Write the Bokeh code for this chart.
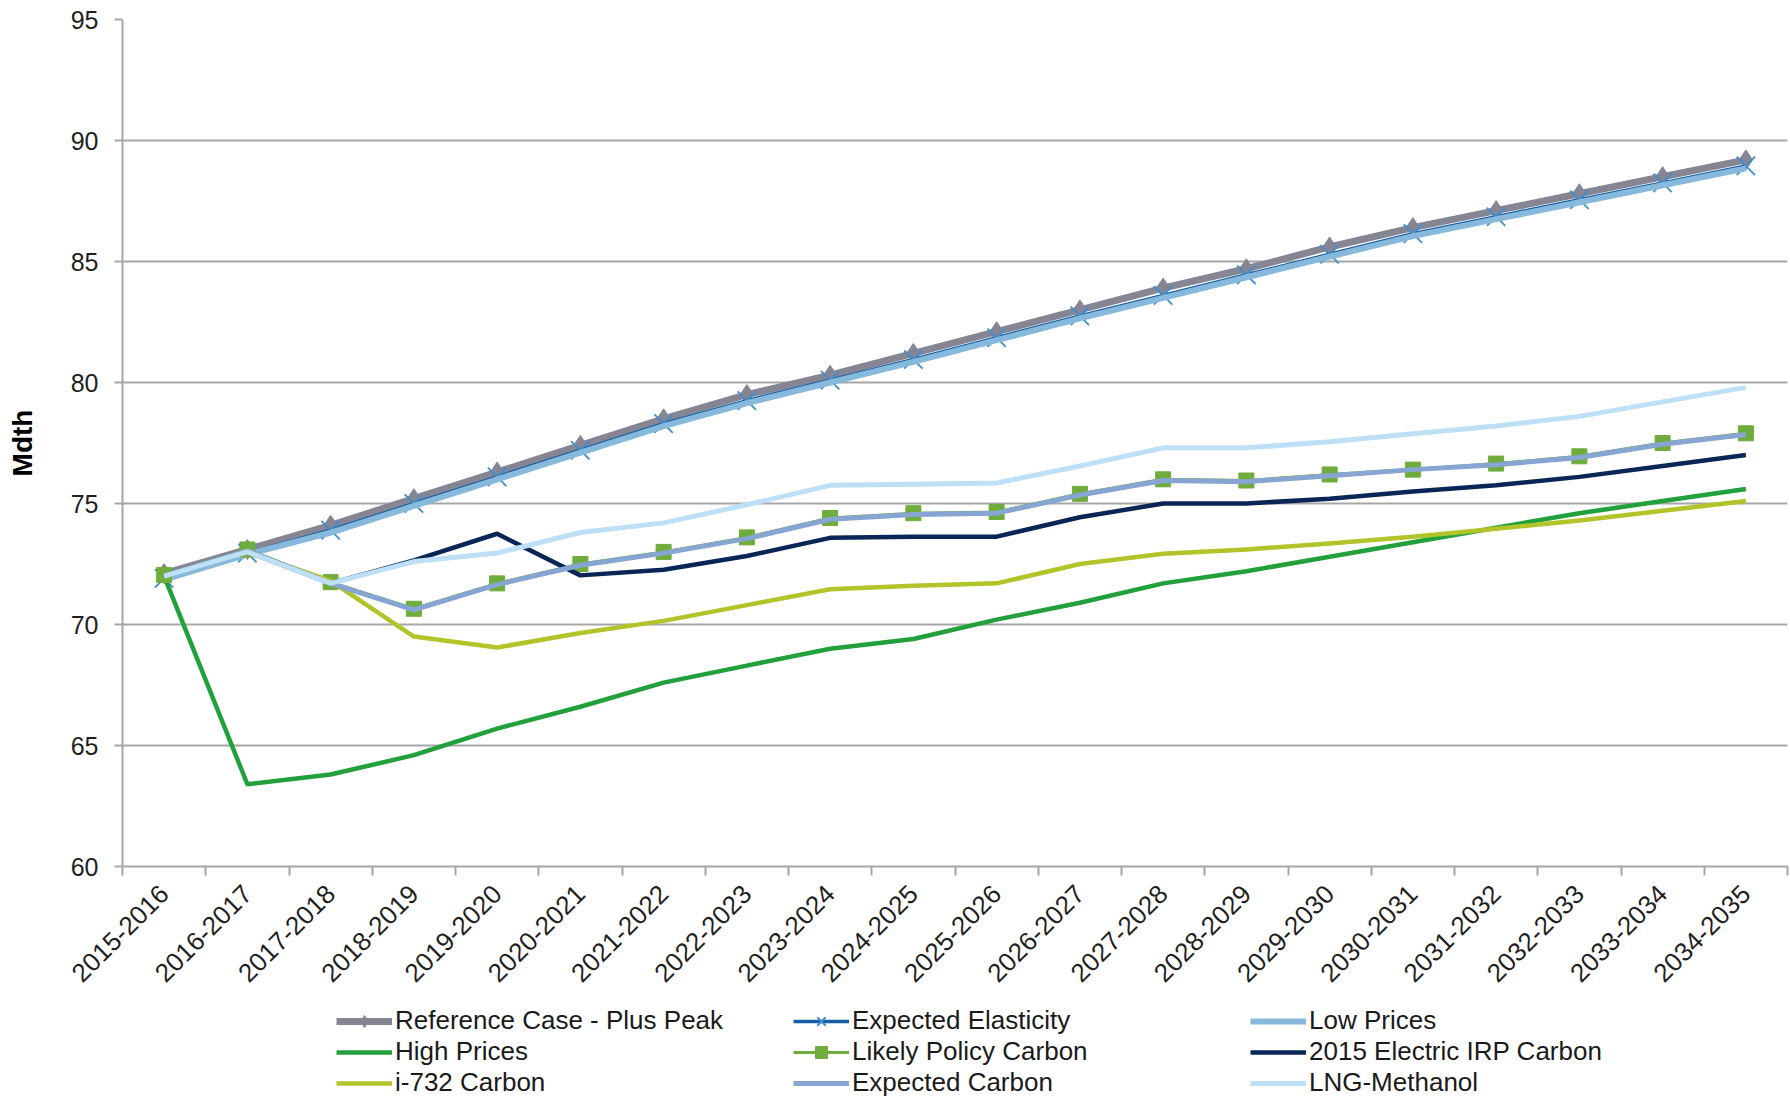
from bokeh.plotting import figure
from bokeh.layouts import column
from bokeh.models import FixedTicker, Legend, LegendItem, Range1d, ColumnDataSource
from bokeh.embed import file_html
from bokeh.resources import INLINE

categories = ["2015-2016", "2016-2017", "2017-2018", "2018-2019", "2019-2020",
              "2020-2021", "2021-2022", "2022-2023", "2023-2024", "2024-2025",
              "2025-2026", "2026-2027", "2027-2028", "2028-2029", "2029-2030",
              "2030-2031", "2031-2032", "2032-2033", "2033-2034", "2034-2035"]

reference_case = [72.1, 73.1, 74.1, 75.2, 76.3, 77.4, 78.5, 79.5, 80.3, 81.2,
                  82.1, 83.0, 83.9, 84.7, 85.6, 86.4, 87.1, 87.8, 88.5, 89.2]
expected_elasticity = [71.9, 72.95, 73.9, 75.0, 76.1, 77.2, 78.3, 79.25, 80.1, 80.95,
                       81.85, 82.75, 83.6, 84.45, 85.3, 86.15, 86.85, 87.55, 88.25, 88.95]
low_prices = [71.85, 72.9, 73.8, 74.9, 76.0, 77.1, 78.2, 79.15, 80.0, 80.85,
              81.75, 82.65, 83.5, 84.35, 85.2, 86.05, 86.75, 87.45, 88.15, 88.85]
high_prices = [72.0, 63.4, 63.8, 64.6, 65.7, 66.6, 67.6, 68.3, 69.0, 69.4,
               70.2, 70.9, 71.7, 72.2, 72.8, 73.4, 74.0, 74.6, 75.1, 75.6]
likely_policy_carbon = [72.05, 73.1, 71.75, 70.65, 71.7, 72.5, 73.0, 73.6, 74.4, 74.6,
                        74.65, 75.4, 76.0, 75.95, 76.2, 76.4, 76.65, 76.95, 77.5, 77.9]
irp_carbon = [72.0, 73.0, 71.7, 72.65, 73.75, 72.03, 72.26, 72.83, 73.58, 73.63,
              73.63, 74.43, 75.0, 75.0, 75.2, 75.5, 75.75, 76.1, 76.55, 77.0]
i732_carbon = [72.0, 73.0, 71.8, 69.5, 69.05, 69.65, 70.15, 70.8, 71.46, 71.6,
               71.7, 72.5, 72.92, 73.1, 73.35, 73.63, 73.96, 74.3, 74.7, 75.1]
expected_carbon = [72.0, 73.05, 71.7, 70.6, 71.65, 72.45, 72.95, 73.55, 74.35, 74.55,
                   74.6, 75.35, 75.95, 75.9, 76.15, 76.4, 76.6, 76.9, 77.45, 77.85]
lng_methanol = [72.0, 73.0, 71.7, 72.6, 72.95, 73.8, 74.2, 74.95, 75.75, 75.8,
                75.85, 76.55, 77.3, 77.3, 77.55, 77.88, 78.2, 78.6, 79.2, 79.8]

y_ticks = [60, 65, 70, 75, 80, 85, 90, 95]

x = list(range(len(categories)))
FONT = "Liberation Sans"

p = figure(width=1790, height=1000, output_backend="svg", toolbar_location=None,
           x_range=Range1d(-0.5, len(categories) - 0.5), y_range=Range1d(60, 95),
           min_border_left=122, min_border_right=3, min_border_top=19, min_border_bottom=134)
p.outline_line_color = None
p.background_fill_color = "white"
p.border_fill_color = "white"

p.xgrid.grid_line_color = None
p.ygrid.grid_line_color = "#a6a6a6"
p.ygrid.grid_line_width = 2

p.yaxis.ticker = FixedTicker(ticks=y_ticks)
p.yaxis.axis_line_color = "#a6a6a6"
p.yaxis.axis_line_width = 2
p.yaxis.major_tick_line_color = "#a6a6a6"
p.yaxis.major_tick_line_width = 2
p.yaxis.major_tick_out = 8
p.yaxis.major_tick_in = 0
p.yaxis.minor_tick_line_color = None
p.yaxis.major_label_text_font = FONT
p.yaxis.major_label_text_font_size = "25px"
p.yaxis.major_label_text_color = "#1f1f1f"
p.yaxis.major_label_standoff = 16
p.yaxis.axis_label = "Mdth"
p.yaxis.axis_label_text_font = FONT
p.yaxis.axis_label_text_font_style = "bold"
p.yaxis.axis_label_text_font_size = "28px"
p.yaxis.axis_label_text_color = "#000000"
p.yaxis.axis_label_standoff = 30

p.xaxis.ticker = FixedTicker(ticks=x, minor_ticks=[i - 0.5 for i in range(len(categories) + 1)])
p.xaxis.major_label_overrides = {i: c for i, c in enumerate(categories)}
p.xaxis.major_label_orientation = 0.785398
p.xaxis.axis_line_color = "#a6a6a6"
p.xaxis.axis_line_width = 2
p.xaxis.major_tick_line_color = None
p.xaxis.major_tick_out = 8
p.xaxis.major_tick_in = 0
p.xaxis.minor_tick_line_color = "#a6a6a6"
p.xaxis.minor_tick_line_width = 2
p.xaxis.minor_tick_out = 9
p.xaxis.minor_tick_in = 0
p.xaxis.major_label_text_font = FONT
p.xaxis.major_label_text_font_size = "26px"
p.xaxis.major_label_text_color = "#1f1f1f"
p.xaxis.major_label_standoff = 14

series = [
    ("Reference Case - Plus Peak", reference_case, "#858594", 7, "diamond", 20, "#858594", 1),
    ("Expected Elasticity", expected_elasticity, "#165fa3", 3.5, "x", 26, "#3d8fd1", 1.8),
    ("Low Prices", low_prices, "#86b9dc", 6, None, 0, None, 0),
    ("High Prices", high_prices, "#22a03c", 4.5, None, 0, None, 0),
    ("Likely Policy Carbon", likely_policy_carbon, "#6fac3c", 3, "square", 15, "#6fac3c", 1),
    ("2015 Electric IRP Carbon", irp_carbon, "#0a2657", 4.5, None, 0, None, 0),
    ("i-732 Carbon", i732_carbon, "#b2c42a", 4.5, None, 0, None, 0),
    ("Expected Carbon", expected_carbon, "#87a5d2", 5, None, 0, None, 0),
    ("LNG-Methanol", lng_methanol, "#bde0f7", 5, None, 0, None, 0),
]

# legend panel: a second, axis-free figure directly below the chart; its y range
# (0..1) keeps the shared series out of view so that only the legend shows
lp = figure(width=1790, height=98, output_backend="svg", toolbar_location=None,
            x_range=Range1d(-0.5, len(categories) - 0.5), y_range=Range1d(0, 1),
            min_border_left=0, min_border_right=0, min_border_top=0, min_border_bottom=0)
lp.axis.visible = False
lp.grid.visible = False
lp.outline_line_color = None
lp.background_fill_color = "white"
lp.border_fill_color = "white"


def add_series(fig, src, color, lw, marker, msize, mcolor, mlw):
    rends = [fig.line("x", "y", source=src, line_color=color, line_width=lw, line_join="round")]
    if marker:
        if marker == "x":
            rends.append(fig.scatter("x", "y", source=src, marker="x", size=msize,
                                     line_color=mcolor, line_width=mlw))
        else:
            rends.append(fig.scatter("x", "y", source=src, marker=marker, size=msize,
                                     fill_color=mcolor, line_color=mcolor, line_width=mlw))
    return rends


items = []
for name, vals, color, lw, marker, msize, mcolor, mlw in series:
    src = ColumnDataSource(data=dict(x=x, y=vals))
    add_series(p, src, color, lw, marker, msize, mcolor, mlw)
    leg_rends = add_series(lp, src, color, lw, marker, msize, mcolor, mlw)
    items.append(LegendItem(label=name, renderers=leg_rends))

legend = Legend(items=items, location=(214, 0), orientation="horizontal", ncols=3,
                border_line_color=None, background_fill_alpha=0, padding=0, margin=0,
                spacing=0, glyph_width=56, glyph_height=30, label_height=30,
                label_width=398, label_standoff=3,
                label_text_font=FONT, label_text_font_size="26px", label_text_color="#1a1a1a")
lp.add_layout(legend, "center")

layout = column(p, lp, spacing=0)
open("out.html", "w").write(file_html(layout, INLINE))
